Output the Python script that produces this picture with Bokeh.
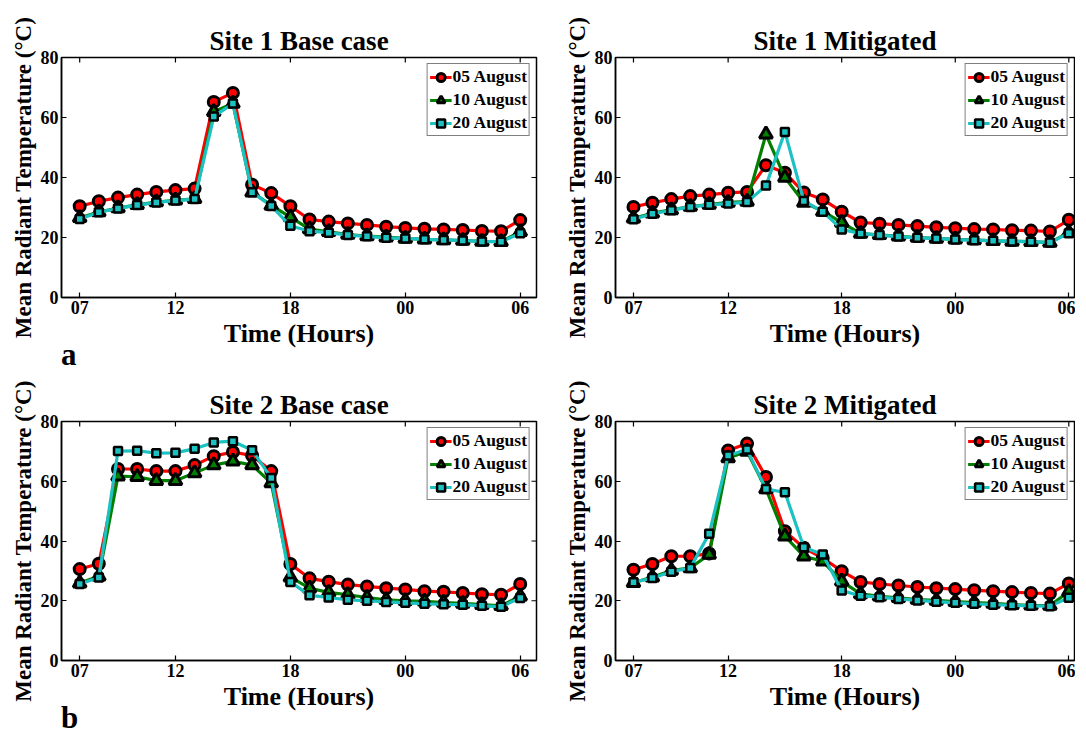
import math
from bokeh.plotting import figure
from bokeh.models import FixedTicker, Legend, LegendItem, Range1d, Div
from bokeh.layouts import column, row
from bokeh.embed import file_html
from bokeh.resources import INLINE

# ---------------- data ----------------
hours = ["07", "08", "09", "10", "11", "12", "13", "14", "15", "16", "17", "18",
         "19", "20", "21", "22", "23", "00", "01", "02", "03", "04", "05", "06"]
tick_hours = ["07", "12", "18", "00", "06"]
y_ticks = [0, 20, 40, 60, 80]
series_labels = ["05 August", "10 August", "20 August"]

s1_base_05 = [30.4, 32.1, 33.3, 34.3, 35.2, 35.8, 36.3, 65.2, 68.2, 37.6, 34.8, 30.4,
              26.0, 25.3, 24.7, 24.2, 23.6, 23.2, 22.9, 22.7, 22.5, 22.2, 22.1, 25.8]
s1_base_10 = [26.6, 28.5, 29.8, 30.9, 31.8, 32.4, 32.9, 61.9, 64.7, 35.1, 30.7, 26.8,
              22.8, 21.9, 21.0, 20.5, 20.1, 19.7, 19.4, 19.2, 19.0, 18.7, 18.6, 21.9]
s1_base_20 = [26.2, 28.4, 29.7, 30.8, 31.7, 32.3, 32.8, 60.3, 64.7, 35.1, 30.5, 23.9,
              22.1, 21.6, 20.8, 20.4, 19.9, 19.7, 19.4, 19.2, 19.0, 18.7, 18.6, 21.4]

s1_mit_05 = [30.2, 31.6, 32.8, 33.8, 34.3, 34.9, 35.2, 44.1, 41.6, 35.0, 32.7, 28.6,
             25.0, 24.6, 24.2, 23.8, 23.4, 23.1, 22.8, 22.7, 22.4, 22.3, 22.0, 25.9]
s1_mit_10 = [26.4, 28.1, 29.2, 30.3, 31.0, 31.7, 32.0, 54.4, 40.0, 31.7, 28.7, 25.0,
             21.3, 20.9, 20.4, 20.0, 19.7, 19.4, 19.2, 18.9, 18.7, 18.6, 18.3, 21.7]
s1_mit_20 = [26.1, 27.9, 29.1, 30.2, 30.9, 31.3, 31.8, 37.3, 55.2, 32.2, 28.6, 22.7,
             21.3, 20.8, 20.3, 19.9, 19.7, 19.3, 19.1, 18.9, 18.7, 18.6, 18.3, 21.4]

s2_base_05 = [30.6, 32.4, 64.1, 64.1, 63.4, 63.4, 65.4, 68.4, 69.8, 68.6, 63.4, 32.3,
              27.5, 26.4, 25.4, 24.8, 24.2, 23.8, 23.2, 23.0, 22.6, 22.2, 22.0, 25.6]
s2_base_10 = [25.9, 28.2, 61.7, 61.5, 60.2, 60.2, 62.8, 65.4, 66.7, 65.4, 59.4, 27.9,
              24.2, 22.8, 22.0, 21.1, 20.3, 20.0, 19.8, 19.4, 19.1, 18.7, 18.3, 21.5]
s2_base_20 = [25.6, 27.8, 70.1, 70.2, 69.4, 69.5, 70.9, 73.0, 73.4, 70.4, 61.1, 26.3,
              21.8, 21.1, 20.3, 20.0, 19.6, 19.3, 19.0, 18.8, 18.7, 18.3, 18.0, 20.9]

s2_mit_05 = [30.4, 32.3, 34.9, 34.9, 35.8, 70.3, 72.6, 61.4, 43.3, 37.7, 34.3, 29.9,
             26.3, 25.6, 25.1, 24.6, 24.2, 23.9, 23.5, 23.2, 22.9, 22.6, 22.4, 25.8]
s2_mit_10 = [26.0, 27.9, 30.1, 31.0, 35.5, 67.8, 70.0, 57.4, 41.6, 34.9, 33.2, 26.5,
             22.3, 21.5, 21.0, 20.4, 20.1, 19.7, 19.4, 19.1, 18.7, 18.5, 18.4, 23.0]
s2_mit_20 = [26.2, 27.6, 29.7, 31.0, 42.4, 68.6, 70.6, 57.4, 56.3, 37.9, 35.5, 23.4,
             21.7, 21.2, 20.6, 20.1, 19.7, 19.3, 19.0, 18.7, 18.5, 18.3, 18.2, 21.0]

# ---------------- style ----------------
FONT = "Liberation Serif"
COLORS = ["#FF0000", "#007F00", "#1CC2C2"]
MARKERS = ["circle", "triangle", "square"]
MSIZE = [11, 13, 8]
MLW = [3, 3, 2.5]

x = list(range(len(hours)))
tick_pos = [hours.index(h) for h in tick_hours]
overrides = {pos: lab for pos, lab in zip(tick_pos, tick_hours)}
X_START = -0.95
Y_END = 80


def style_axis(ax, label_size):
    ax.major_tick_in = 5
    ax.major_tick_out = 0
    ax.minor_tick_in = 0
    ax.minor_tick_out = 0
    ax.axis_line_color = "black"
    ax.axis_line_width = 1.5
    ax.major_tick_line_color = "black"
    ax.major_tick_line_width = 1.2
    ax.major_label_text_font = FONT
    ax.major_label_text_font_style = "bold"
    ax.major_label_text_color = "black"
    ax.major_label_text_font_size = "18px"
    ax.major_label_standoff = 3
    ax.axis_label_text_font = FONT
    ax.axis_label_text_font_style = "bold"
    ax.axis_label_text_font_size = label_size
    ax.axis_label_text_color = "black"
    ax.axis_label_standoff = 2


def make_panel(title, data, fw, fh, x_end, ml, mr, mt, mb):
    p = figure(frame_width=fw, frame_height=fh,
               x_range=Range1d(X_START, x_end), y_range=Range1d(0, Y_END),
               output_backend="svg", toolbar_location=None,
               min_border_left=ml, min_border_right=mr,
               min_border_top=mt, min_border_bottom=mb)
    p.grid.visible = False
    p.outline_line_color = "black"
    p.outline_line_width = 1.5
    p.background_fill_color = "white"
    p.border_fill_color = "white"

    p.title.text = title
    p.title.align = "center"
    p.title.text_font = FONT
    p.title.text_font_size = "27px"
    p.title.text_font_style = "bold"
    p.title.text_color = "black"
    p.title.standoff = 3

    p.xaxis.ticker = FixedTicker(ticks=tick_pos)
    p.xaxis.major_label_overrides = overrides
    p.yaxis.ticker = FixedTicker(ticks=y_ticks)
    p.xaxis.axis_label = "Time (Hours)"
    p.yaxis.axis_label = "Mean Radiant Temperature (\u00b0C)"
    style_axis(p.xaxis[0], "26px")
    style_axis(p.yaxis[0], "23px")

    # inward ticks on the top and right edges of the box
    p.ray(x=tick_pos, y=[Y_END] * len(tick_pos), length=5, length_units="screen",
          angle=-math.pi / 2, line_color="black", line_width=1.2)
    p.ray(x=[x_end] * len(y_ticks), y=y_ticks, length=5, length_units="screen",
          angle=math.pi, line_color="black", line_width=1.2)

    items = []
    for i, ys in enumerate(data):
        ln = p.line(x, ys, line_color=COLORS[i], line_width=3.2)
        sc = p.scatter(x, ys, marker=MARKERS[i], size=MSIZE[i],
                       fill_color=COLORS[i], line_color="black", line_width=MLW[i])
        items.append(LegendItem(label=series_labels[i], renderers=[ln, sc]))

    leg = Legend(items=items, location="top_right")
    leg.label_text_font = FONT
    leg.label_text_font_style = "bold"
    leg.label_text_font_size = "17.5px"
    leg.label_text_color = "black"
    leg.border_line_color = "black"
    leg.border_line_width = 1.5
    leg.background_fill_color = "white"
    leg.background_fill_alpha = 1
    leg.glyph_width = 22
    leg.glyph_height = 20
    leg.label_height = 20
    leg.label_standoff = 1
    leg.spacing = 2
    leg.padding = 2
    leg.margin = 6
    p.add_layout(leg)
    return p


def tag_div(letter, height, shift):
    return Div(text='<span style="position:relative;top:%dpx">%s</span>' % (shift, letter),
               width=300, height=height, margin=(0, 0, 0, 0),
               styles={"font-family": "'Liberation Serif', serif", "font-weight": "bold",
                       "font-size": "31px", "line-height": "%dpx" % height,
                       "padding-left": "61px", "color": "black", "overflow": "visible"})


p1 = make_panel("Site 1 Base case", [s1_base_05, s1_base_10, s1_base_20],
                475, 240, 23.85, 61, 22, 57, 56)
p2 = make_panel("Site 1 Mitigated", [s1_mit_05, s1_mit_10, s1_mit_20],
                459, 240, 23.3, 57, 1, 57, 56)
p3 = make_panel("Site 2 Base case", [s2_base_05, s2_base_10, s2_base_20],
                475, 239, 23.85, 61, 22, 48, 56)
p4 = make_panel("Site 2 Mitigated", [s2_mit_05, s2_mit_10, s2_mit_20],
                459, 239, 23.3, 57, 1, 48, 56)

layout = column(row(p1, p2), tag_div("a", 20, -8), row(p3, p4), tag_div("b", 10, -3),
                spacing=0)
open("out.html", "w").write(file_html(layout, INLINE))
